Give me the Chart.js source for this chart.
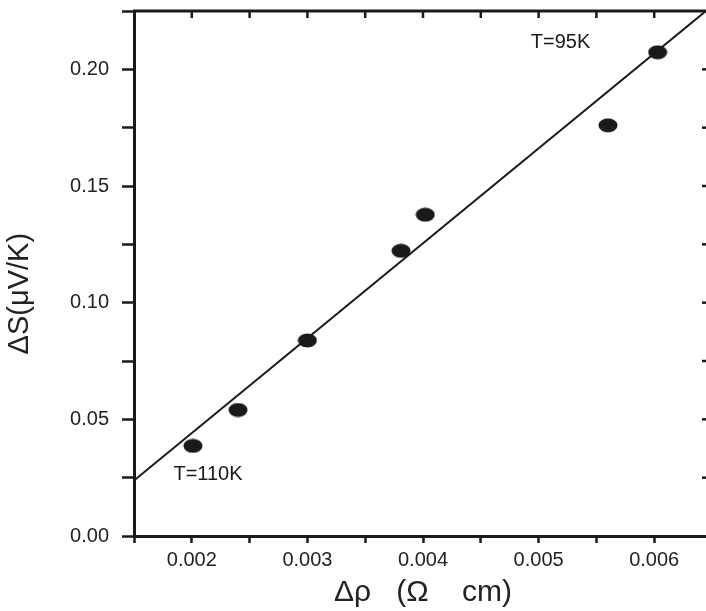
<!DOCTYPE html>
<html>
<head>
<meta charset="utf-8">
<script src="https://cdn.jsdelivr.net/npm/chart.js@4.4.1/dist/chart.umd.min.js"></script>
<style>
  html, body { margin: 0; padding: 0; background: #fff; overflow: hidden; }
  #wrap { width: 723px; height: 611px; }
</style>
</head>
<body>
<div id="wrap"><canvas id="canvas" width="723" height="611"></canvas></div>
<script>
// measured points (delta rho, delta S)
var rhoValues = [0.00201, 0.00240, 0.00300, 0.00381, 0.00402, 0.00560, 0.00603];
var sValues   = [0.0386, 0.0540, 0.0838, 0.1222, 0.1377, 0.1760, 0.2073];
// linear fit, read at its two ends
var fitRho = [0.0015, 0.00644];
var fitS   = [0.0238, 0.2247];
var xTickLabels = ['0.002', '0.003', '0.004', '0.005', '0.006'];
var yTickLabels = ['0.00', '0.05', '0.10', '0.15', '0.20'];
var notes = [
    {text: 'T=110K', x: 0.00214, y: 0.0263},
    {text: 'T=95K',  x: 0.00519, y: 0.2115}
];

var ink = '#1a1a1a';
var tickFont = {family: '"Liberation Sans", Arial, sans-serif', size: 20};

function makeDot(){
    var c = document.createElement('canvas');
    c.width = 20; c.height = 15;
    var g = c.getContext('2d');
    g.fillStyle = ink;
    g.beginPath();
    g.ellipse(10, 7.5, 9.5, 7, 0, 0, Math.PI * 2);
    g.fill();
    return c;
}

// top / right frame with inward ticks + text notes
var framePlugin = {
    id: 'frame',
    afterDraw: function(chart){
        var ctx = chart.ctx;
        var a = chart.chartArea;
        var xs = chart.scales.x, ys = chart.scales.y;
        ctx.save();
        ctx.strokeStyle = ink;
        ctx.lineWidth = 3;
        ctx.beginPath();
        ctx.moveTo(a.left - 1, a.top);
        ctx.lineTo(a.right, a.top);
        ctx.lineTo(a.right, a.bottom);
        ctx.stroke();
        ctx.lineWidth = 2.5;
        xs.ticks.forEach(function(t){
            var px = xs.getPixelForValue(t.value);
            if (px <= a.left + 2 || px >= a.right - 2) return;
            ctx.beginPath();
            ctx.moveTo(px, a.top);
            ctx.lineTo(px, a.top + 7);
            ctx.stroke();
        });
        ys.ticks.forEach(function(t){
            var py = ys.getPixelForValue(t.value);
            if (py <= a.top + 2 || py >= a.bottom - 2) return;
            ctx.beginPath();
            ctx.moveTo(a.right, py);
            ctx.lineTo(a.right - 10, py);
            ctx.stroke();
        });
        ctx.fillStyle = ink;
        ctx.font = '20px "Liberation Sans", Arial, sans-serif';
        ctx.textAlign = 'center';
        ctx.textBaseline = 'middle';
        notes.forEach(function(n){
            ctx.fillText(n.text, xs.getPixelForValue(n.x), ys.getPixelForValue(n.y));
        });
        ctx.restore();
    }
};

var points = rhoValues.map(function(v, i){ return {x: v, y: sValues[i]}; });
var fitLine = fitRho.map(function(v, i){ return {x: v, y: fitS[i]}; });

var ctx = document.getElementById('canvas').getContext('2d');
var chart = new Chart(ctx, {
    type: 'scatter',
    data: {
        datasets: [{
            type: 'line',
            data: fitLine,
            borderColor: ink,
            borderWidth: 2,
            pointRadius: 0,
            fill: false,
            tension: 0
        }, {
            data: points,
            pointStyle: makeDot(),
            pointRadius: 10,
            backgroundColor: ink,
            borderColor: ink
        }]
    },
    plugins: [framePlugin],
    options: {
        responsive: false,
        animation: false,
        layout: {padding: {top: 8, right: 5, left: 0, bottom: 0}},
        plugins: {legend: {display: false}, tooltip: {enabled: false}},
        scales: {
            x: {
                type: 'linear',
                min: 0.0015,
                max: 0.0065,
                afterFit: function(s){ s.height = 75; s.paddingLeft = 0; s.paddingRight = 0; },
                border: {display: true, color: ink, width: 3},
                grid: {drawOnChartArea: false, color: ink, tickColor: ink, tickLength: 7, tickWidth: 2.5},
                ticks: {
                    stepSize: 0.0005,
                    color: '#222',
                    font: tickFont,
                    padding: 5,
                    maxRotation: 0,
                    autoSkip: false,
                    callback: function(v){
                        var s = v.toFixed(3);
                        return (xTickLabels.indexOf(s) >= 0 && Math.abs(v * 1000 - Math.round(v * 1000)) < 1e-6) ? s : '';
                    }
                },
                title: {
                    display: true,
                    text: 'Δρ   (Ω    cm)',
                    color: '#222',
                    font: {family: '"Liberation Sans", Arial, sans-serif', size: 30},
                    padding: {top: 0, bottom: 0}
                }
            },
            y: {
                type: 'linear',
                min: 0,
                max: 0.225,
                afterFit: function(s){ s.width = 134; s.paddingTop = 0; s.paddingBottom = 0; },
                border: {display: true, color: ink, width: 3},
                grid: {drawOnChartArea: false, color: ink, tickColor: ink, tickLength: 12, tickWidth: 2.5},
                ticks: {
                    stepSize: 0.025,
                    color: '#222',
                    font: tickFont,
                    padding: 13,
                    autoSkip: false,
                    callback: function(v){
                        var s = v.toFixed(2);
                        return (yTickLabels.indexOf(s) >= 0 && Math.abs(v * 20 - Math.round(v * 20)) < 1e-6) ? s : '';
                    }
                },
                title: {
                    display: true,
                    text: 'ΔS(μV/K)     ',
                    color: '#222',
                    font: {family: '"Liberation Sans", Arial, sans-serif', size: 29},
                    padding: {top: 3, bottom: 0}
                }
            }
        }
    }
});
</script>
</body>
</html>
